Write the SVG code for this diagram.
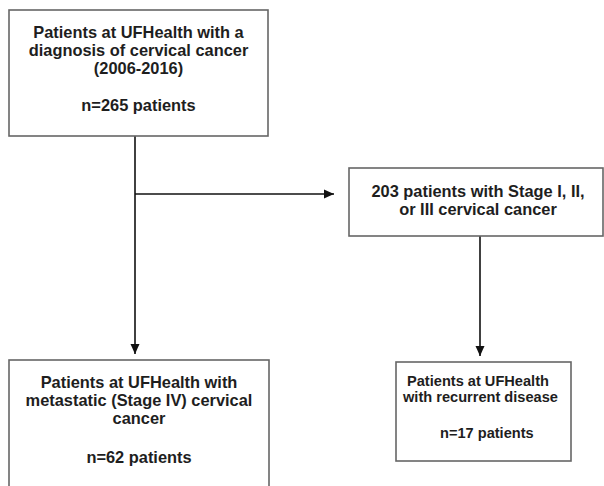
<svg xmlns="http://www.w3.org/2000/svg" width="604" height="486" viewBox="0 0 604 486">
<style>
.box{fill:#fff;stroke:#666;stroke-width:1.6}
.t{font-family:"Liberation Sans",Arial,sans-serif;font-weight:bold;font-size:16.4px;fill:#1e1e1e;text-anchor:middle}
.s{font-size:14.6px;text-anchor:start}
.c{fill:none;stroke:#111;stroke-width:1.6}
</style>
<defs>
<marker id="ah" viewBox="0 0 10 10" refX="10" refY="5" markerWidth="10" markerHeight="10" markerUnits="userSpaceOnUse" orient="auto">
<path d="M0,0.5 L10,5 L0,9.5 Z" fill="#111"/>
</marker>
</defs>
<rect width="604" height="486" fill="#fff"/>
<g id="connectors">
<line class="c" x1="135" y1="136" x2="135" y2="354" marker-end="url(#ah)"/>
<line class="c" x1="135" y1="194" x2="334" y2="194" marker-end="url(#ah)"/>
<line class="c" x1="480" y1="236" x2="480" y2="356" marker-end="url(#ah)"/>
</g>
<g id="n1">
<rect class="box" x="9" y="10" width="259" height="126"/>
<text class="t" x="138.5" y="38">Patients at UFHealth with a</text>
<text class="t" x="138.5" y="56">diagnosis of cervical cancer</text>
<text class="t" x="138.5" y="74">(2006-2016)</text>
<text class="t" x="138.5" y="111">n=265 patients</text>
</g>
<g id="n2">
<rect class="box" x="349" y="168" width="254" height="68"/>
<text class="t" x="478" y="197">203 patients with Stage I, II,</text>
<text class="t" x="478" y="215">or III cervical cancer</text>
</g>
<g id="n3">
<rect class="box" x="9" y="360" width="260" height="140"/>
<text class="t" x="139" y="388">Patients at UFHealth with</text>
<text class="t" x="139" y="406">metastatic (Stage IV) cervical</text>
<text class="t" x="139" y="424">cancer</text>
<text class="t" x="139" y="463">n=62 patients</text>
</g>
<g id="n4">
<rect class="box" x="396" y="362" width="175" height="99"/>
<text class="t s" x="407" y="386">Patients at UFHealth</text>
<text class="t s" x="403" y="402">with recurrent disease</text>
<text class="t s" x="440" y="438">n=17 patients</text>
</g>
</svg>
